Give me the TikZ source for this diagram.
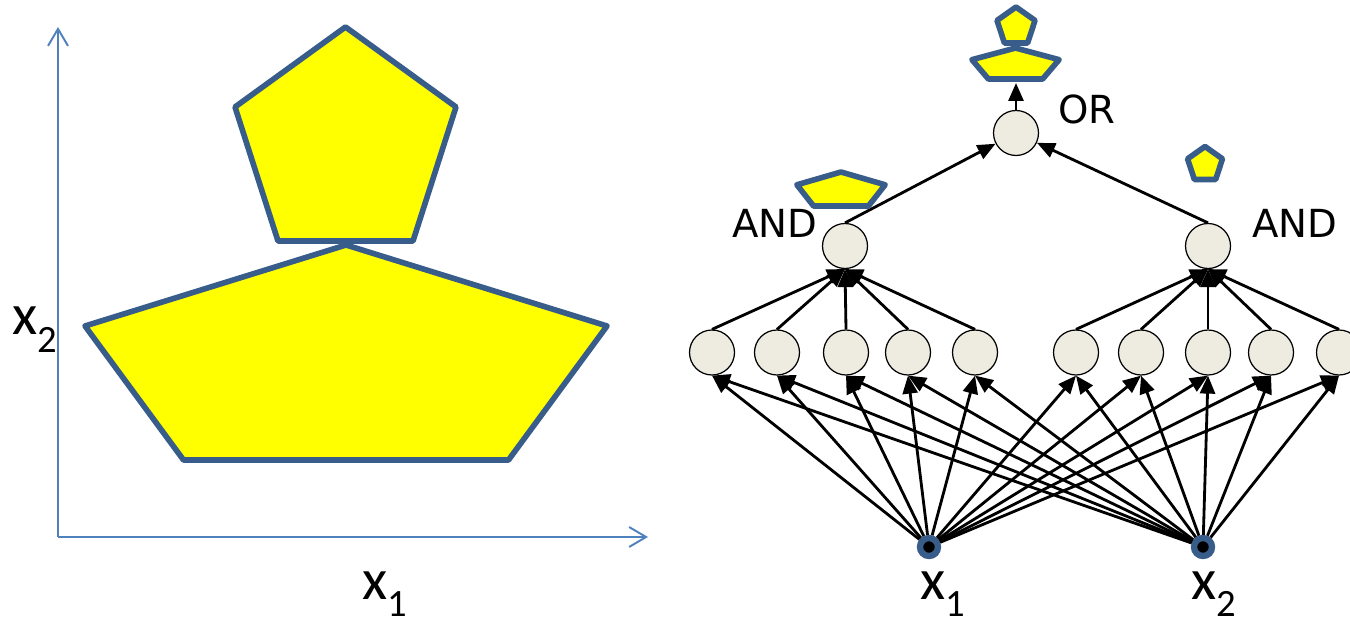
\documentclass[tikz,border=0pt]{standalone}
\usepackage{fontspec}
\setmainfont{Carlito}
\newfontfamily\gatefont{DejaVu Sans}
\usetikzlibrary{arrows.meta,positioning}
\definecolor{pentaYellow}{RGB}{255,255,0}
\definecolor{pentaEdge}{RGB}{56,93,138}
\definecolor{axisBlue}{RGB}{79,129,189}
\definecolor{unitFill}{RGB}{238,236,225}

\newcommand{\xvar}[1]{x\raisebox{-9.7pt}{\fontsize{22}{22}\selectfont #1}}

\tikzset{
  penta/.style={fill=pentaYellow, draw=pentaEdge, line width=3.2pt, line join=round},
  bigpenta/.pic={\path[penta] (0,2.15) -- (-5.22,0.53) -- (-3.25,-2.15) -- (3.25,-2.15) -- (5.22,0.53) -- cycle;},
  smallpenta/.pic={\path[penta] (0,2.14) -- (-2.21,0.54) -- (-1.35,-2.14) -- (1.35,-2.14) -- (2.21,0.54) -- cycle;},
  axis/.style={axisBlue, line width=1.1pt, -{Straight Barb[length=3.4mm,width=4mm]}},
  unit/.style={circle, draw=black, line width=0.7pt, fill=unitFill, minimum size=0.9cm, inner sep=0pt},
  inputnode/.style={circle, draw=pentaEdge, line width=3.6pt, fill=black, minimum size=0.36cm, inner sep=0pt},
  link/.style={-{Triangle[length=0.36cm,width=0.3cm]}, line width=1.6pt},
  varlabel/.style={anchor=base west, inner sep=0pt, font=\fontsize{33}{33}\selectfont},
  gatelabel/.style={anchor=base west, inner sep=0pt, font=\gatefont\fontsize{22}{22}\selectfont}
}

\begin{document}
\begin{tikzpicture}
\clip (0,0) rectangle (27,12.5);

% input space with the two regions
\coordinate (origin) at (1.16,1.76);
\draw[axis] (origin) -- (12.96,1.76);
\draw[axis] (origin) -- (1.16,11.96);
\pic at (6.92,5.45) {bigpenta};
\pic at (6.91,9.82) {smallpenta};
\node[varlabel] (x2axis) at (0.24,5.8) {\xvar{2}};
\node[varlabel] (x1axis) at (7.24,0.52) {\xvar{1}};

% network: inputs, hidden units, AND / OR gates
\node[inputnode] (x1) at (18.58,1.56) {};
\node[inputnode] (x2) at (24.06,1.56) {};
\node[varlabel] (x1lab) at (18.4,0.52) {\xvar{1}};
\node[varlabel] (x2lab) at (23.82,0.52) {\xvar{2}};

\foreach \x [count=\i] in {14.24,15.54,16.92,18.16,19.5,21.52,22.82,24.16,25.42,26.78}
  \node[unit] (h\i) at (\x,5.45) {};

\node[unit] (andL) at (16.9,7.58) {};
\node[unit] (andR) at (24.16,7.58) {};
\node[unit] (orN) at (20.32,9.84) {};
\node[gatelabel] (andLlab) at (14.64,7.74) {AND};
\node[gatelabel] (andRlab) at (25.04,7.74) {AND};
\node[gatelabel] (orlab) at (21.16,10.02) {OR};

\foreach \i in {1,...,10} {
  \draw[link] (x1) -- (h\i.south);
  \draw[link] (x2) -- (h\i.south);
}
\foreach \i in {1,...,5}
  \draw[link] (h\i.north) -- (andL.south);
\foreach \i in {6,...,10}
  \draw[link] (h\i.north) -- (andR.south);
\draw[link] (andL.north) -- (orN);
\draw[link] (andR.north) -- (orN);
\coordinate (orTop) at (20.32,10.84);
\draw[link] (orN) -- (orTop);

% small copies of the regions
\pic[xscale=0.167,yscale=0.144] at (20.31,11.23) {bigpenta};
\pic[xscale=0.172,yscale=0.168] at (20.32,12.0) {smallpenta};
\pic[xscale=0.169,yscale=0.158] at (16.82,8.72) {bigpenta};
\pic[xscale=0.158,yscale=0.154] at (24.1,9.24) {smallpenta};
\end{tikzpicture}
\end{document}
